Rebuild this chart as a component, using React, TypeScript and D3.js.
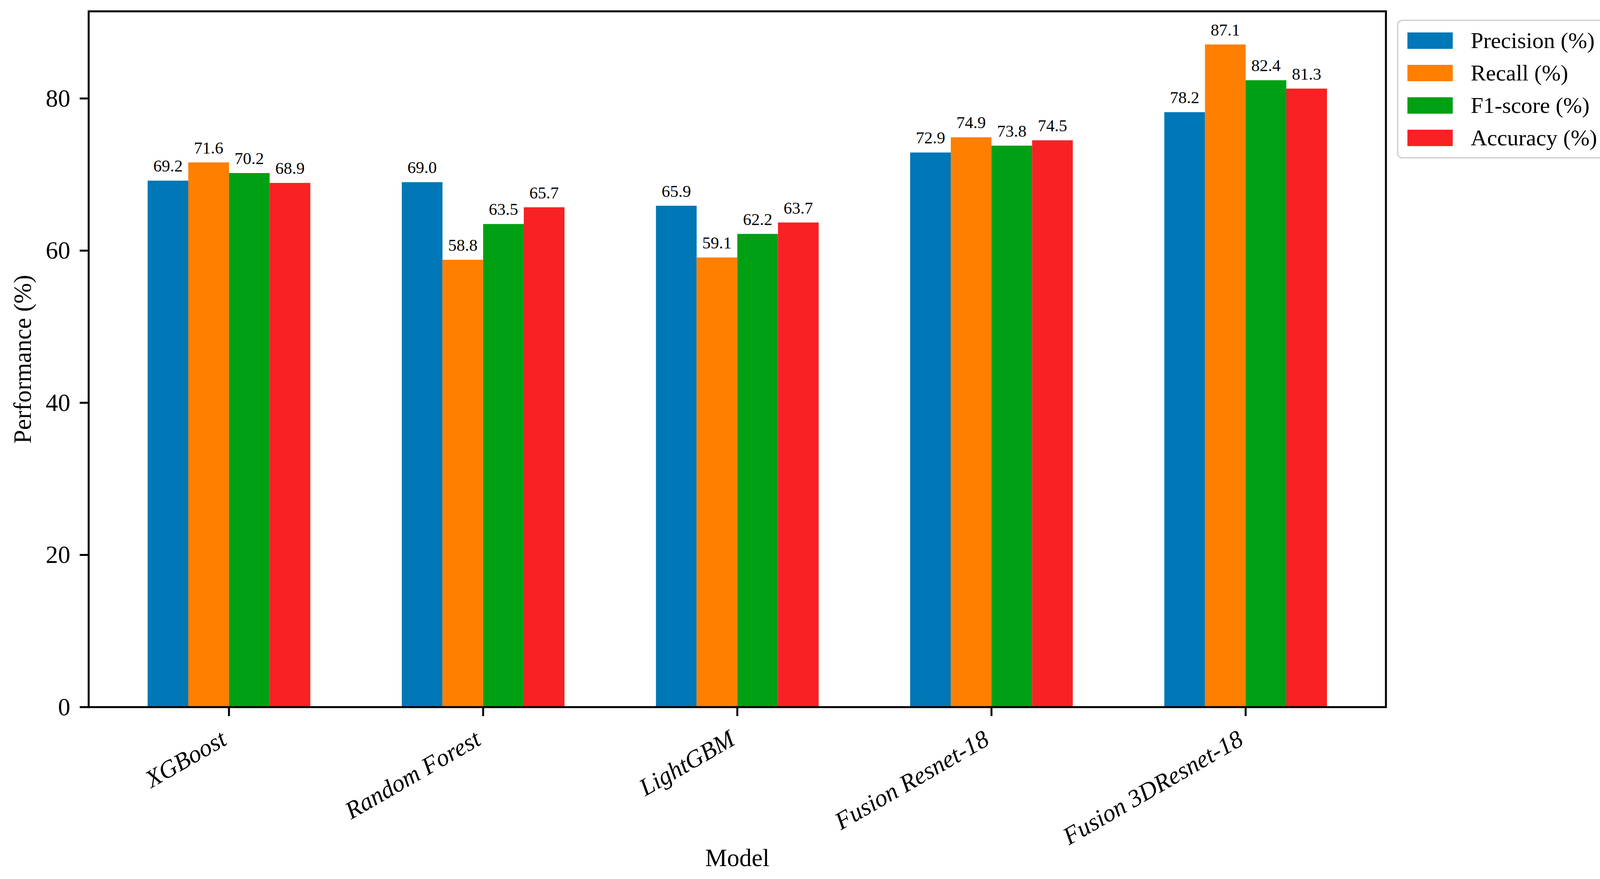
import React from 'react'
import * as d3 from 'd3'

const models = ['XGBoost', 'Random Forest', 'LightGBM', 'Fusion Resnet-18', 'Fusion 3DResnet-18']
const metrics = ['Precision (%)', 'Recall (%)', 'F1-score (%)', 'Accuracy (%)']
const colors = ['#0077b6', '#ff7f00', '#00a015', '#f82124']

const precision = [69.2, 69.0, 65.9, 72.9, 78.2]
const recall = [71.6, 58.8, 59.1, 74.9, 87.1]
const f1score = [70.2, 63.5, 62.2, 73.8, 82.4]
const accuracy = [68.9, 65.7, 63.7, 74.5, 81.3]
const series = [precision, recall, f1score, accuracy]

const yTicks = [0, 20, 40, 60, 80]

const W = 4142
const H = 2250
const margin = { top: 29, right: 594, bottom: 440, left: 227 }
const barW = 0.16
const font = "'Liberation Serif', 'Times New Roman', serif"

const App: React.FC = () => {
  const x = d3
    .scaleLinear()
    .domain([-0.552, models.length - 1 + 0.552])
    .range([margin.left, W - margin.right])

  const yMax = d3.max(series.flat())! * 1.05
  const y = d3
    .scaleLinear()
    .domain([0, yMax])
    .range([H - margin.bottom, margin.top])

  const x0 = margin.left
  const x1 = W - margin.right
  const y0 = H - margin.bottom
  const y1 = margin.top
  const tickLen = 23

  // legend geometry (matplotlib-like, fontsize 58)
  const lx = x1 + 30
  const ly = 52
  const rowH = 83

  return (
    <svg
      width={W}
      height={H}
      style={{ position: 'absolute', left: 0, top: 0, background: '#fff' }}
      fontFamily={font}
    >
      <rect x={0} y={0} width={W} height={H} fill="#fff" />

      {/* bars */}
      {series.map((vals, j) => (
        <g key={metrics[j]}>
          {vals.map((v, i) => {
            const bx = x(i + (j - 1.5) * barW - barW / 2)
            const bw = x(barW) - x(0)
            return (
              <rect
                key={i}
                x={bx}
                y={y(v)}
                width={bw}
                height={y(0) - y(v)}
                fill={colors[j]}
              />
            )
          })}
        </g>
      ))}

      {/* value labels */}
      {series.map((vals, j) => (
        <g key={'lab' + j}>
          {vals.map((v, i) => (
            <text
              key={i}
              x={x(i + (j - 1.5) * barW)}
              y={y(v) - 23}
              textAnchor="middle"
              fontSize={43}
              fill="#000"
            >
              {v.toFixed(1)}
            </text>
          ))}
        </g>
      ))}

      {/* y ticks */}
      {yTicks.map((t) => (
        <g key={t}>
          <line x1={x0 - tickLen} x2={x0} y1={y(t)} y2={y(t)} stroke="#000" strokeWidth={5} />
          <text
            x={x0 - tickLen - 24}
            y={y(t)}
            dy="0.33em"
            textAnchor="end"
            fontSize={63}
          >
            {t}
          </text>
        </g>
      ))}

      {/* x ticks */}
      {models.map((m, i) => (
        <g key={m}>
          <line x1={x(i)} x2={x(i)} y1={y0} y2={y0 + tickLen} stroke="#000" strokeWidth={5} />
          <text
            transform={`translate(${x(i) - 2},${y0 + 94}) rotate(-30)`}
            textAnchor="end"
            fontSize={63}
            fontStyle="italic"
          >
            {m}
          </text>
        </g>
      ))}

      {/* frame */}
      <rect
        x={x0}
        y={y1}
        width={x1 - x0}
        height={y0 - y1}
        fill="none"
        stroke="#000"
        strokeWidth={5}
      />

      {/* axis titles */}
      <text x={(x0 + x1) / 2} y={2217} textAnchor="middle" fontSize={63}>
        Model
      </text>
      <text
        transform={`translate(79,${(y0 + y1) / 2}) rotate(-90)`}
        textAnchor="middle"
        fontSize={63}
      >
        Performance (%)
      </text>

      {/* legend */}
      <g>
        <rect
          x={lx}
          y={ly}
          width={536}
          height={352}
          rx={12}
          fill="#fff"
          stroke="#d6d6d6"
          strokeWidth={4}
        />
        {metrics.map((m, j) => (
          <g key={m} transform={`translate(${lx + 25},${104 + j * rowH})`}>
            <rect x={0} y={-21} width={116} height={42} fill={colors[j]} />
            <text x={162} y={0} dy="0.33em" fontSize={58}>
              {m}
            </text>
          </g>
        ))}
      </g>
    </svg>
  )
}

export default App
